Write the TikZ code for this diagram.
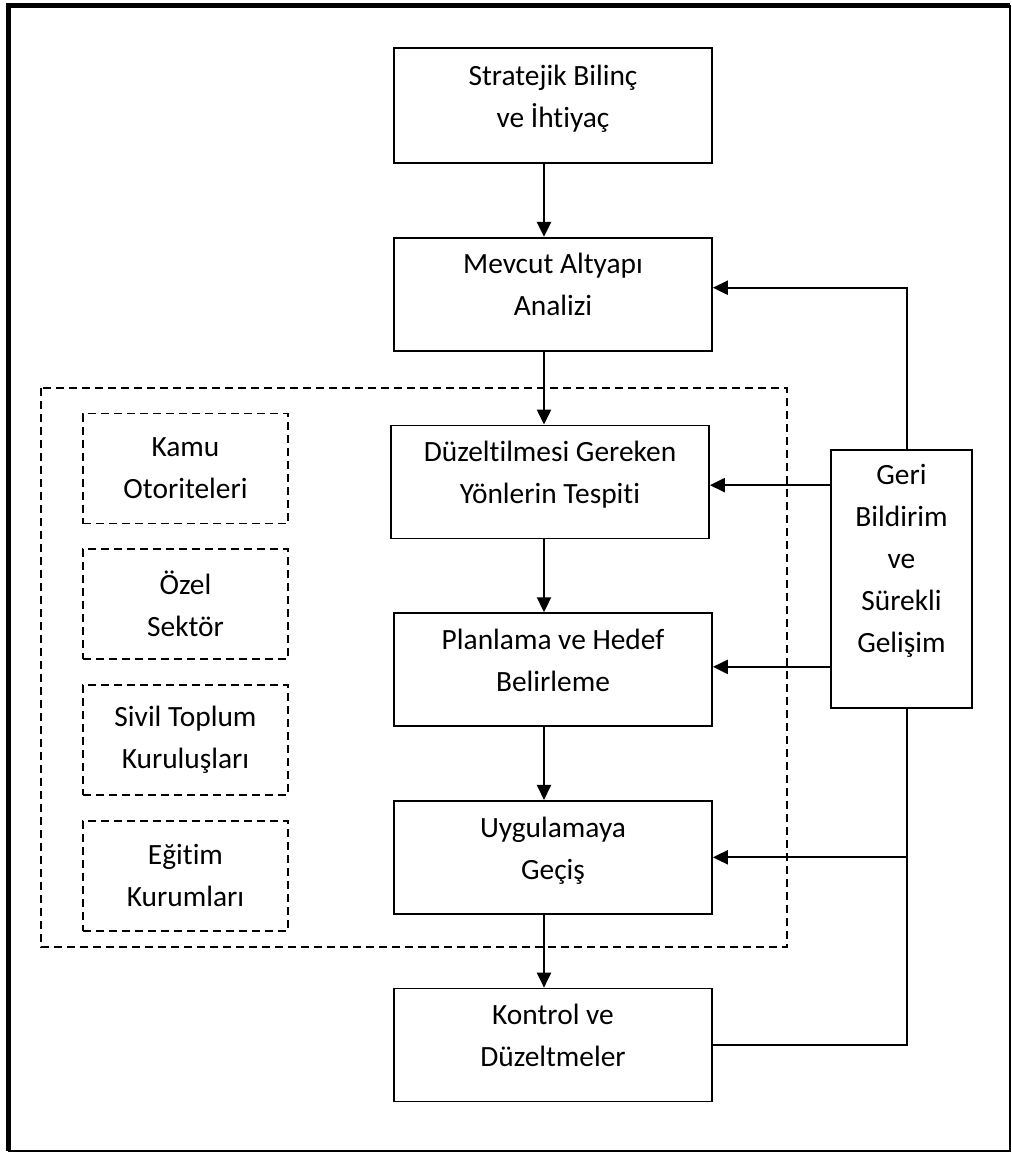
\documentclass[tikz,border=0pt]{standalone}
\usepackage{fontspec}
\setmainfont{Carlito}[Ligatures=NoCommon]
\usetikzlibrary{arrows.meta,positioning}

\begin{document}
\begin{tikzpicture}[
  x=0.5pt,y=-0.5pt,
  node distance=36.5pt,
  font=\fontsize{14.7}{21}\selectfont,
  stage/.style={draw,line width=0.85pt,align=center,minimum width=159pt,minimum height=56.5pt,text depth=9.5pt},
  actor/.style={draw,line width=0.9pt,dash pattern=on 4pt off 2.5pt,align=center,minimum width=102.5pt,minimum height=55pt},
  flow/.style={-{Triangle[length=7.5pt,width=7pt]},line width=1.15pt},
  link/.style={line width=1.15pt}
]
\useasboundingbox (0,0) rectangle (1012,1153);
\draw[line width=0.9pt] (8.5,5.5) rectangle (1010,1151);
\draw[line width=2.5pt] (8.5,1151) -- (8.5,5.5) -- (1010,5.5);
\coordinate (col) at (544,0);
\coordinate (spine) at (907,0);
% main column
\node[stage,minimum height=57.5pt] (n0) at (553,105.5) {Stratejik Bilinç\\ve İhtiyaç};
\node[stage,below=of n0] (n1) {Mevcut Altyapı\\Analizi};
\draw[flow] (n0.south -| col) -- (n1.north -| col);
\node[stage,below=of n1,xshift=-1.5pt] (n2) {Düzeltilmesi Gereken\\Yönlerin Tespiti};
\draw[flow] (n1.south -| col) -- (n2.north -| col);
\node[stage,below=of n2,xshift=1.5pt] (n3) {Planlama ve Hedef\\Belirleme};
\draw[flow] (n2.south -| col) -- (n3.north -| col);
\node[stage,below=of n3] (n4) {Uygulamaya\\Geçiş};
\draw[flow] (n3.south -| col) -- (n4.north -| col);
\node[stage,below=of n4] (n5) {Kontrol ve\\Düzeltmeler};
\draw[flow] (n4.south -| col) -- (n5.north -| col);
% stakeholders
\draw[line width=0.9pt,dash pattern=on 4pt off 2.5pt] (41,388) rectangle (787,947);
\node[actor] (a0) at (185.5,468.5) {Kamu\\Otoriteleri};
\node[actor,below=12pt of a0] (a1) {Özel\\Sektör};
\node[actor,below=12pt of a1] (a2) {Sivil Toplum\\Kuruluşları};
\node[actor,below=12pt of a2] (a3) {Eğitim\\Kurumları};
% feedback loop
\node[stage,minimum width=70.5pt,minimum height=129pt,text depth=20.5pt] (fb) at (901.5,579) {Geri\\Bildirim\\ve\\Sürekli\\Gelişim};
\coordinate (m1) at ([yshift=3.25pt]n1.east);
\draw[flow] (fb.north -| spine) |- (m1);
\coordinate (m2) at ([yshift=-18pt]fb.north west);
\draw[flow] (m2) -- (m2 -| n2.east);
\coordinate (m3) at ([yshift=21pt]fb.south west);
\draw[flow] (m3) -- (m3 -| n3.east);
\draw[flow] (spine |- n4.east) -- (n4.east);
\draw[link] (fb.south -| spine) |- (n5.east);
\end{tikzpicture}
\end{document}
